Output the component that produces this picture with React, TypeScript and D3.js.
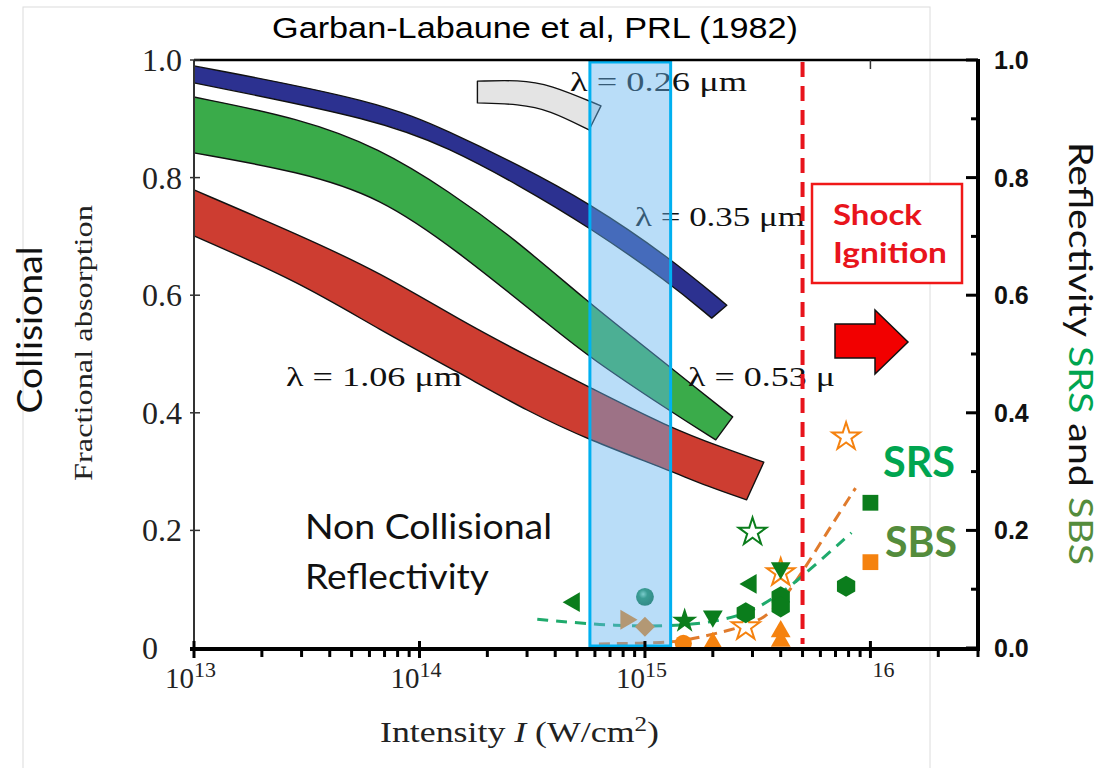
import React from "react";
import * as d3 from "d3";

// ---------------- data ----------------
const xTickValues = [1e13, 1e14, 1e15, 1e16];
const xTickExps = ["13", "14", "15", "16"];
const leftTickValues = [0, 0.2, 0.4, 0.6, 0.8, 1.0];
const leftTickLabels = ["0", "0.2", "0.4", "0.6", "0.8", "1.0"];
const rightTickValues = [0, 0.1, 0.2, 0.3, 0.4, 0.5, 0.6, 0.7, 0.8, 0.9, 1.0];
const rightLabelValues = [0, 0.2, 0.4, 0.6, 0.8, 1.0];
const rightTickLabels = ["0.0", "0.2", "0.4", "0.6", "0.8", "1.0"];

// absorption bands (log10 intensity, fractional absorption)
const band026UpperLogI = [14.257, 14.442, 14.575, 14.805];
const band026UpperAbs = [0.964, 0.966, 0.959, 0.922];
const band026LowerLogI = [14.257, 14.442, 14.575, 14.752];
const band026LowerAbs = [0.927, 0.925, 0.915, 0.881];

const band035UpperLogI = [13.0, 13.823, 14.133, 14.442, 14.752, 15.106, 15.363];
const band035UpperAbs = [0.99, 0.93, 0.878, 0.821, 0.757, 0.665, 0.583];
const band035LowerLogI = [13.0, 13.823, 14.133, 14.442, 14.752, 15.106, 15.296];
const band035LowerAbs = [0.961, 0.898, 0.85, 0.787, 0.716, 0.622, 0.561];

const band053UpperLogI = [13.0, 13.469, 13.823, 14.133, 14.412, 14.752, 14.96, 15.195, 15.389];
const band053UpperAbs = [0.937, 0.901, 0.85, 0.776, 0.699, 0.587, 0.524, 0.452, 0.393];
const band053LowerLogI = [13.0, 13.469, 13.823, 14.164, 14.602, 14.752, 15.102, 15.314];
const band053LowerAbs = [0.842, 0.81, 0.767, 0.677, 0.541, 0.495, 0.405, 0.354];

const band106UpperLogI = [13.0, 13.469, 13.823, 14.195, 14.487, 14.752, 15.102, 15.35, 15.527];
const band106UpperAbs = [0.779, 0.702, 0.639, 0.554, 0.495, 0.444, 0.376, 0.34, 0.316];
const band106LowerLogI = [13.0, 13.469, 13.823, 14.177, 14.487, 14.752, 15.102, 15.283, 15.451];
const band106LowerAbs = [0.701, 0.622, 0.541, 0.468, 0.401, 0.354, 0.303, 0.274, 0.252];

// reflectivity data (intensity W/cm2, reflectivity)
const srsIntensity = [4.85e14, 1.0e15, 1.5e15, 2.0e15, 2.8e15, 2.95e15, 4.0e15, 4.0e15, 4.0e15, 7.8e15, 1.0e16, 3.0e15];
const srsReflect = [0.078, 0.087, 0.046, 0.054, 0.06, 0.109, 0.136, 0.087, 0.07, 0.105, 0.247, 0.197];
const srsShape = ["left", "sphere", "star", "down", "hex", "left", "down", "hex", "hex", "hex", "square", "ostar"];

const sbsIntensity = [8.25e14, 1.0e15, 1.48e15, 2.0e15, 2.8e15, 4.0e15, 4.0e15, 4.0e15, 7.8e15, 1.0e16];
const sbsReflect = [0.048, 0.036, 0.008, 0.008, 0.036, 0.128, 0.028, 0.012, 0.359, 0.146];
const sbsShape = ["right", "diamond", "circle", "up", "ostar", "ostar", "up", "up", "ostar", "square"];

const srsFitIntensity = [3.33e14, 6.25e14, 1.24e15, 2.06e15, 2.97e15, 4.04e15, 4.8e15, 8.24e15];
const srsFitReflect = [0.049, 0.039, 0.036, 0.044, 0.061, 0.094, 0.116, 0.196];
const sbsFitIntensity = [6.25e14, 1.28e15, 1.57e15, 2.43e15, 3.43e15, 4.47e15, 6.52e15, 8.59e15];
const sbsFitReflect = [0.007, 0.009, 0.014, 0.031, 0.048, 0.099, 0.201, 0.272];

const highlightRange = [5.7e14, 1.3e15];
const shockThreshold = 5e15;

// ---------------- layout ----------------
const W = 1118;
const H = 768;
const L = 194, R = 978, T = 60, B = 648;

const x = d3.scaleLog().domain([1e13, 3e16]).range([L, R]);
const y = d3.scaleLinear().domain([0, 1]).range([B, T]);
const yR = d3.scaleLinear().domain([0, 1]).range([B, T]);

const GREEN = "#0b7d1c";
const ORANGE = "#f5820f";
const SERIF = "'Liberation Serif', 'Times New Roman', serif";
const SANS = "'Liberation Sans', Arial, sans-serif";
const CAL = "Lato, 'Open Sans', sans-serif";

function bandPath(uX: number[], uY: number[], lX: number[], lY: number[]) {
  const line = d3
    .line<[number, number]>()
    .x((d) => x(Math.pow(10, d[0])))
    .y((d) => y(d[1]))
    .curve(d3.curveBasis);
  const up = uX.map((v, i) => [v, uY[i]] as [number, number]);
  const lo = lX.map((v, i) => [v, lY[i]] as [number, number]).reverse();
  return (line(up) || "") + (line(lo) || "").replace(/^M/, "L") + "Z";
}

const hexagon = {
  draw(ctx: any, size: number) {
    const r = Math.sqrt((2 * size) / (3 * Math.sqrt(3)));
    for (let i = 0; i < 6; i++) {
      const a = (Math.PI / 3) * i + Math.PI / 6;
      const px = r * Math.cos(a), py = r * Math.sin(a);
      if (i === 0) ctx.moveTo(px, py);
      else ctx.lineTo(px, py);
    }
    ctx.closePath();
  },
};

function Marker({ cx, cy, shape, color }: { cx: number; cy: number; shape: string; color: string }) {
  let d = "";
  let rot = 0;
  let fill = color;
  let stroke = "none";
  let sw = 0;
  if (shape === "left" || shape === "right" || shape === "down" || shape === "up") {
    d = d3.symbol(d3.symbolTriangle, 170)() || "";
    rot = shape === "left" ? -90 : shape === "right" ? 90 : shape === "down" ? 180 : 0;
  } else if (shape === "hex") {
    d = d3.symbol(hexagon as any, 290)() || "";
  } else if (shape === "square") {
    d = d3.symbol(d3.symbolSquare, 250)() || "";
  } else if (shape === "diamond") {
    d = d3.symbol(d3.symbolSquare, 200)() || "";
    rot = 45;
  } else if (shape === "circle") {
    d = d3.symbol(d3.symbolCircle, 230)() || "";
  } else if (shape === "star") {
    d = d3.symbol(d3.symbolStar, 200)() || "";
  } else if (shape === "ostar") {
    d = d3.symbol(d3.symbolStar, 240)() || "";
    fill = "#ffffff";
    stroke = color;
    sw = 2;
  } else if (shape === "sphere") {
    d = d3.symbol(d3.symbolCircle, 250)() || "";
    fill = "url(#sphereGrad)";
  }
  return (
    <path
      d={d}
      transform={`translate(${cx},${cy}) rotate(${rot})`}
      fill={fill}
      stroke={stroke}
      strokeWidth={sw}
    />
  );
}

export default function App() {
  const fitLine = d3
    .line<[number, number]>()
    .x((d) => x(d[0]))
    .y((d) => yR(d[1]))
    .curve(d3.curveBasis);
  const srsFit = fitLine(srsFitIntensity.map((v, i) => [v, srsFitReflect[i]] as [number, number])) || "";
  const sbsFit = fitLine(sbsFitIntensity.map((v, i) => [v, sbsFitReflect[i]] as [number, number])) || "";

  const minorTicks: number[] = [];
  for (let e = 13; e <= 16; e++) {
    for (let k = 2; k <= 9; k++) {
      const v = k * Math.pow(10, e);
      if (v <= 3e16) minorTicks.push(v);
    }
  }

  const hx0 = x(highlightRange[0]);
  const hx1 = x(highlightRange[1]);
  const sx = x(shockThreshold);

  return (
    <svg
      width={W}
      height={H}
      viewBox={`0 0 ${W} ${H}`}
      style={{ position: "absolute", left: 0, top: 0, background: "#fff" }}
    >
      <defs>
        <radialGradient id="sphereGrad" cx="0.4" cy="0.35" r="0.7">
          <stop offset="0" stopColor="#8fe0b0" />
          <stop offset="0.35" stopColor="#1a8a4a" />
          <stop offset="1" stopColor="#0a6630" />
        </radialGradient>
        <clipPath id="plotClip">
          <rect x={L} y={T} width={R - L} height={B - T} />
        </clipPath>
      </defs>

      {/* frame of pasted figure */}
      <rect x={23} y={7} width={907} height={775} fill="none" stroke="#dcdcdc" strokeWidth={1} />

      {/* title */}
      <text x={535} y={38} textAnchor="middle" fontFamily={SANS} fontSize={29} textLength={526} lengthAdjust="spacingAndGlyphs">
        Garban-Labaune et al, PRL (1982)
      </text>

      {/* absorption bands */}
      <g stroke="#111" strokeWidth={1.4} strokeLinejoin="round">
        <path d={bandPath(band026UpperLogI, band026UpperAbs, band026LowerLogI, band026LowerAbs)} fill="#e4e4e4" />
        <path d={bandPath(band035UpperLogI, band035UpperAbs, band035LowerLogI, band035LowerAbs)} fill="#2c3190" />
        <path d={bandPath(band053UpperLogI, band053UpperAbs, band053LowerLogI, band053LowerAbs)} fill="#3aab4a" />
        <path d={bandPath(band106UpperLogI, band106UpperAbs, band106LowerLogI, band106LowerAbs)} fill="#cd3d31" />
      </g>

      {/* wavelength labels */}
      <g fontFamily={SERIF} fontSize={28} fill="#111">
        <text x={570} y={91} textLength={177} lengthAdjust="spacingAndGlyphs">λ = 0.26 μm</text>
        <text x={635} y={226} textLength={170} lengthAdjust="spacingAndGlyphs">λ = 0.35 μm</text>
        <text x={286} y={386} textLength={176} lengthAdjust="spacingAndGlyphs">λ = 1.06 μm</text>
        <text x={688} y={386} textLength={147} lengthAdjust="spacingAndGlyphs">λ = 0.53 μ</text>
      </g>

      {/* reflectivity fits and data */}
      <g clipPath="url(#plotClip)">
        <path d={sbsFit} fill="none" stroke="#e07b2c" strokeWidth={3} strokeDasharray="11 7" />
        <path d={srsFit} fill="none" stroke="#1faa6c" strokeWidth={3} strokeDasharray="11 8" />
        {sbsIntensity.map((v, i) => (
          <Marker key={"o" + i} cx={x(v)} cy={yR(sbsReflect[i])} shape={sbsShape[i]} color={ORANGE} />
        ))}
        {srsIntensity.map((v, i) => (
          <Marker key={"g" + i} cx={x(v)} cy={yR(srsReflect[i])} shape={srsShape[i]} color={GREEN} />
        ))}
      </g>

      {/* highlight window */}
      <rect
        x={hx0}
        y={T + 2}
        width={hx1 - hx0}
        height={B - T - 4}
        fill="rgb(100,180,240)"
        fillOpacity={0.45}
        stroke="#00b0f0"
        strokeWidth={3}
      />

      {/* shock ignition threshold */}
      <line x1={sx} x2={sx} y1={T + 2} y2={B - 4} stroke="#e8141c" strokeWidth={4} strokeDasharray="15 9" />

      {/* axes */}
      <line x1={L} x2={L} y1={T} y2={B} stroke="#333" strokeWidth={2} />
      <line x1={L} x2={R} y1={T} y2={T} stroke="#000" strokeWidth={2.5} />
      <line x1={x(1e16)} x2={x(1e16)} y1={T} y2={T + 9} stroke="#333" strokeWidth={1.5} />
      {leftTickValues.map((v) => (
        <line key={"lt" + v} x1={L - 4} x2={L + 6} y1={y(v)} y2={y(v)} stroke="#333" strokeWidth={1.5} />
      ))}
      <g fontFamily={SERIF} fontSize={32} fill="#222">
        {leftTickValues.map((v, i) => (
          <text key={"ll" + v} x={142} y={y(v) + 11}>
            {leftTickLabels[i]}
          </text>
        ))}
      </g>

      {/* bottom axis */}
      <line x1={L - 4} x2={R + 2} y1={B + 1} y2={B + 1} stroke="#000" strokeWidth={4} />
      {minorTicks.map((v) => (
        <line key={"mt" + v} x1={x(v)} x2={x(v)} y1={B + 1} y2={B + 9} stroke="#000" strokeWidth={3} />
      ))}
      {xTickValues.map((v) => (
        <line key={"xt" + v} x1={x(v)} x2={x(v)} y1={B - 7} y2={B + 10} stroke="#000" strokeWidth={3} />
      ))}
      <g fontFamily={SERIF} fill="#222">
        {xTickValues.map((v, i) =>
          i < 3 ? (
            <text key={"xl" + v} x={x(v) - 29} y={688} fontSize={29}>
              10
              <tspan dy={-11} fontSize={22}>
                {xTickExps[i]}
              </tspan>
            </text>
          ) : (
            <text key={"xl" + v} x={x(v) + 2} y={677} fontSize={22}>
              {xTickExps[i]}
            </text>
          )
        )}
        <text x={380} y={742} fontSize={30} textLength={279} lengthAdjust="spacingAndGlyphs">
          Intensity <tspan fontStyle="italic">I</tspan> (W/cm
          <tspan dy={-11} fontSize={21}>2</tspan>
          <tspan dy={11}>)</tspan>
        </text>
      </g>

      {/* right axis */}
      <line x1={R} x2={R} y1={T - 1} y2={B + 3} stroke="#000" strokeWidth={4} />
      {rightTickValues.map((v, i) => (
        <line
          key={"rt" + v}
          x1={R - (i % 2 === 0 ? 12 : 7)}
          x2={R}
          y1={yR(v)}
          y2={yR(v)}
          stroke="#000"
          strokeWidth={3}
        />
      ))}
      <g fontFamily={SANS} fontWeight="bold" fontSize={25} fill="#111">
        {rightLabelValues.map((v, i) => (
          <text key={"rl" + v} x={994} y={yR(v) + 9}>
            {rightTickLabels[i]}
          </text>
        ))}
      </g>

      {/* axis titles */}
      <text
        transform="translate(42,330) rotate(-90)"
        textAnchor="middle"
        fontFamily={CAL}
        fontSize={34}
        fill="#111"
        textLength={167}
        lengthAdjust="spacingAndGlyphs"
      >
        Collisional
      </text>
      <text
        transform="translate(92,343) rotate(-90)"
        textAnchor="middle"
        fontFamily={SERIF}
        fontSize={26}
        fill="#222"
        textLength={276}
        lengthAdjust="spacingAndGlyphs"
      >
        Fractional absorption
      </text>
      <text
        transform="translate(1069,142) rotate(90)"
        fontFamily={CAL}
        fontSize={33}
        fill="#111"
        textLength={423}
        lengthAdjust="spacingAndGlyphs"
      >
        Reflectivity <tspan fill="#00a550">SRS</tspan> and <tspan fill="#548c3c">SBS</tspan>
      </text>

      {/* annotations */}
      <g fontFamily={CAL} fontSize={34} fill="#111">
        <text x={305} y={539} textLength={247} lengthAdjust="spacingAndGlyphs">Non Collisional</text>
        <text x={305} y={589} textLength={184} lengthAdjust="spacingAndGlyphs">Reflectivity</text>
      </g>
      <g fontFamily={CAL} fontWeight="bold" fontSize={42}>
        <text x={883} y={477} fill="#00a550" textLength={72} lengthAdjust="spacingAndGlyphs">SRS</text>
        <text x={885} y={557} fill="#548c3c" textLength={72} lengthAdjust="spacingAndGlyphs">SBS</text>
      </g>

      <rect x={812} y={184} width={150} height={99} fill="#fff" stroke="#f01818" strokeWidth={2.5} />
      <g fontFamily={CAL} fontWeight="bold" fontSize={29} fill="#e8141c">
        <text x={833} y={225} textLength={89} lengthAdjust="spacingAndGlyphs">Shock</text>
        <text x={833} y={263} textLength={114} lengthAdjust="spacingAndGlyphs">Ignition</text>
      </g>
      <path
        d="M835,324 L875,324 L875,310 L908,342 L875,374 L875,358 L835,358 Z"
        fill="#f20000"
        stroke="#111"
        strokeWidth={1.5}
        strokeLinejoin="miter"
      />
    </svg>
  );
}
